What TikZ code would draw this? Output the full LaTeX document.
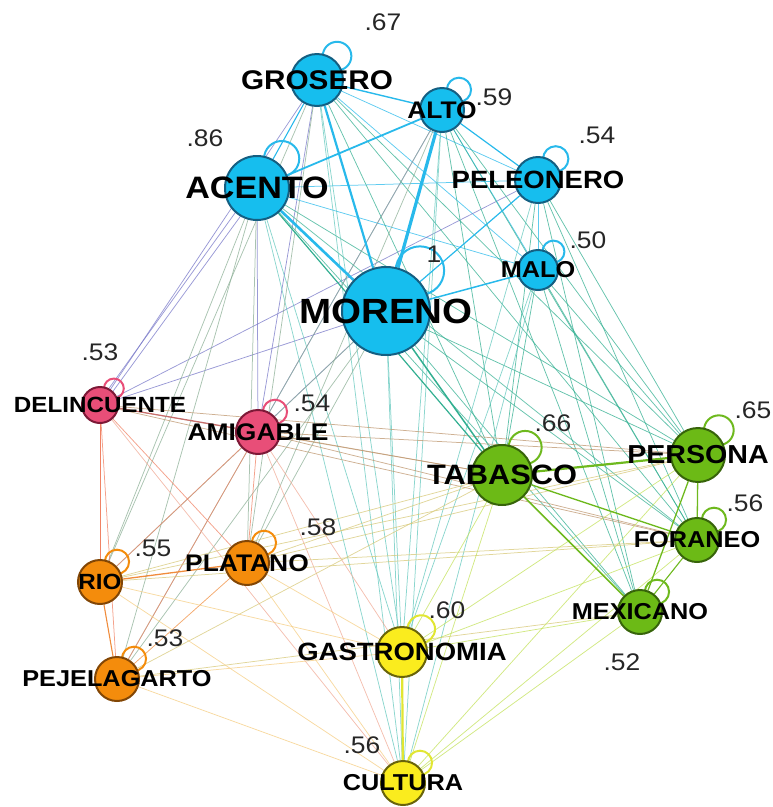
\documentclass[tikz,border=0pt]{standalone}
\usepackage{fontspec}
\setmainfont{Liberation Sans}[FakeStretch=1.1]
\usetikzlibrary{calc,backgrounds}

\definecolor{bluefill}{RGB}{22,190,238}
\definecolor{blueline}{RGB}{20,95,130}
\definecolor{pinkfill}{RGB}{232,78,120}
\definecolor{pinkline}{RGB}{125,25,55}
\definecolor{greenfill}{RGB}{108,186,22}
\definecolor{greenline}{RGB}{55,100,10}
\definecolor{orangefill}{RGB}{244,140,12}
\definecolor{orangeline}{RGB}{130,70,5}
\definecolor{yellowfill}{RGB}{250,236,30}
\definecolor{yellowline}{RGB}{105,100,10}
% edge colours (group to group)
\definecolor{bb}{RGB}{40,185,235}
\definecolor{bg}{RGB}{50,175,145}
\definecolor{bp}{RGB}{120,120,200}
\definecolor{bo}{RGB}{140,175,150}
\definecolor{by}{RGB}{100,200,190}
\definecolor{pp}{RGB}{200,110,110}
\definecolor{po}{RGB}{240,130,100}
\definecolor{pg}{RGB}{190,150,110}
\definecolor{py}{RGB}{240,170,150}
\definecolor{oo}{RGB}{240,140,60}
\definecolor{og}{RGB}{215,200,120}
\definecolor{oy}{RGB}{245,205,130}
\definecolor{gg}{RGB}{110,185,30}
\definecolor{gy}{RGB}{195,225,90}
\definecolor{yy}{RGB}{225,230,50}

\tikzset{
  term/.style={circle, inner sep=0pt, line width=2pt, minimum size=2*#1},
  bterm/.style={term=#1, draw=blueline, fill=bluefill},
  pterm/.style={term=#1, draw=pinkline, fill=pinkfill},
  gterm/.style={term=#1, draw=greenline, fill=greenfill},
  oterm/.style={term=#1, draw=orangeline, fill=orangefill},
  yterm/.style={term=#1, draw=yellowline, fill=yellowfill},
  word/.style={font=\bfseries\fontsize{#1}{#1}\selectfont},
  val/.style={font=\fontsize{24}{24}\selectfont, text=black!85},
  ln/.style={line width=0.75pt, opacity=0.75},
}

% self loop: node, radius, colour
\newcommand{\selfloop}[3]{%
  \draw[#3, line width=2pt] ($(#1)+(-50:{1.2*#2})$) circle[radius={0.55*#2pt}];}

\begin{document}
\begin{tikzpicture}[x=1pt,y=-1pt]
\useasboundingbox (0,0) rectangle (773,807);

% Nodes
\node[bterm=26, label={[word=27]center:GROSERO}] (grosero) at (317,80) {};
\node[bterm=22, label={[word=24]center:ALTO}] (alto) at (442,110) {};
\node[bterm=32, label={[word=31]center:ACENTO}] (acento) at (257,188) {};
\node[bterm=23, label={[word=25]center:PELEONERO}] (peleonero) at (538,180) {};
\node[bterm=20, label={[word=23]center:MALO}] (malo) at (538,270) {};
\node[bterm=44, label={[word=35]center:MORENO}] (moreno) at (386,311) {};
\node[pterm=18, label={[word=22]center:DELINCUENTE}] (delincuente) at (100,405) {};
\node[pterm=22, label={[word=24]center:AMIGABLE}] (amigable) at (258,432) {};
\node[gterm=30, label={[word=28]center:TABASCO}] (tabasco) at (502,475) {};
\node[gterm=27, label={[word=26]center:PERSONA}] (persona) at (698,455) {};
\node[gterm=22, label={[word=23]center:FORANEO}] (foraneo) at (697,540) {};
\node[gterm=22, label={[word=23]center:MEXICANO}] (mexicano) at (640,612) {};
\node[yterm=25, label={[word=25]center:GASTRONOMIA}] (gastronomia) at (402,652) {};
\node[yterm=22, label={[word=23]center:CULTURA}] (cultura) at (403,783) {};
\node[oterm=22, label={[word=22]center:RIO}] (rio) at (100,582) {};
\node[oterm=22, label={[word=24]center:PLATANO}] (platano) at (247,563) {};
\node[oterm=22, label={[word=23]center:PEJELAGARTO}] (pejelagarto) at (117,679) {};

% Values
\node[val] (v-grosero) at (383,22) {.67};
\node[val] (v-alto) at (494,97) {.59};
\node[val] (v-acento) at (205,138) {.86};
\node[val] (v-peleonero) at (597,135) {.54};
\node[val] (v-malo) at (588,240) {.50};
\node[val] (v-moreno) at (434,254) {1};
\node[val] (v-delincuente) at (100,352) {.53};
\node[val] (v-amigable) at (312,403) {.54};
\node[val] (v-tabasco) at (553,423) {.66};
\node[val] (v-persona) at (753,410) {.65};
\node[val] (v-foraneo) at (745,503) {.56};
\node[val] (v-mexicano) at (622,662) {.52};
\node[val] (v-gastronomia) at (447,610) {.60};
\node[val] (v-cultura) at (362,745) {.56};
\node[val] (v-rio) at (153,548) {.55};
\node[val] (v-platano) at (318,527) {.58};
\node[val] (v-pejelagarto) at (165,638) {.53};

\begin{pgfonlayer}{background}
% thin edges by group
\foreach \a/\b in {grosero/peleonero, grosero/malo, alto/malo, acento/peleonero,
    acento/malo, peleonero/malo}
  \draw[ln, bb] (\a) -- (\b);
\foreach \a/\b in {acento/amigable, moreno/delincuente, grosero/delincuente,
    grosero/amigable, moreno/amigable, alto/amigable, peleonero/delincuente}
  \draw[ln, bp] (\a) -- (\b);
\draw[ln, bp] ($(acento)+(-4,0)$) -- ($(delincuente)+(-3,0)$);
\draw[ln, bp] ($(acento)+(4,0)$) -- ($(delincuente)+(3,0)$);
\foreach \a/\b in {moreno/persona, moreno/foraneo, moreno/mexicano, acento/persona,
    acento/foraneo, acento/mexicano, grosero/tabasco, grosero/persona, grosero/foraneo,
    alto/tabasco, alto/persona, alto/foraneo, alto/mexicano, peleonero/tabasco,
    peleonero/persona, peleonero/foraneo, peleonero/mexicano, malo/tabasco,
    malo/persona, malo/foraneo, malo/mexicano}
  \draw[ln, bg] (\a) -- (\b);
\foreach \a/\b in {moreno/gastronomia, moreno/cultura, acento/gastronomia,
    acento/cultura, grosero/gastronomia, grosero/cultura, alto/gastronomia,
    alto/cultura, peleonero/gastronomia, malo/cultura, malo/gastronomia}
  \draw[ln, by] (\a) -- (\b);
\foreach \a/\b in {acento/rio, acento/platano, acento/pejelagarto, moreno/platano,
    moreno/rio, grosero/rio, grosero/platano, alto/platano, alto/pejelagarto,
    moreno/pejelagarto}
  \draw[ln, bo] (\a) -- (\b);
\foreach \a/\b in {delincuente/rio, delincuente/pejelagarto, delincuente/platano,
    amigable/rio, amigable/platano, amigable/pejelagarto}
  \draw[ln, po] (\a) -- (\b);
\foreach \a/\b in {delincuente/tabasco, delincuente/persona, amigable/tabasco,
    amigable/persona, amigable/foraneo, delincuente/foraneo}
  \draw[ln, pg] (\a) -- (\b);
\foreach \a/\b in {amigable/gastronomia, amigable/cultura, delincuente/cultura}
  \draw[ln, py] (\a) -- (\b);
\draw[ln, oo] (platano) -- (pejelagarto);
\foreach \a/\b in {rio/tabasco, platano/tabasco, platano/persona, rio/persona,
    platano/foraneo, pejelagarto/tabasco, pejelagarto/mexicano, rio/foraneo}
  \draw[ln, og] (\a) -- (\b);
\foreach \a/\b in {rio/gastronomia, rio/cultura, platano/gastronomia,
    platano/cultura, pejelagarto/gastronomia, pejelagarto/cultura}
  \draw[ln, oy] (\a) -- (\b);
\foreach \a/\b in {tabasco/gastronomia, tabasco/cultura, persona/gastronomia,
    persona/cultura, foraneo/gastronomia, foraneo/cultura, mexicano/gastronomia,
    mexicano/cultura}
  \draw[ln, gy] (\a) -- (\b);

% heavier edges
\draw[bb, line width=1.4pt] (grosero) -- (alto);
\draw[bb, line width=1.1pt] (grosero) -- (acento);
\draw[bb, line width=1.2pt] (alto) -- (peleonero);
\draw[bb, line width=1.2pt] (peleonero) -- (moreno);
\draw[bb, line width=1.5pt] (malo) -- (moreno);
\draw[bb, line width=3.2pt] (alto) -- (moreno);
\draw[bb, line width=2.2pt] (grosero) -- (moreno);
\draw[bb, line width=1.8pt] (acento) -- (alto);
\draw[bb, line width=2.6pt] (acento) -- (moreno);
\draw[bg, line width=1.5pt] (moreno) -- (tabasco);
\draw[bg, line width=1.2pt] (acento) -- (tabasco);
\draw[pp, line width=1.2pt] (delincuente) -- (amigable);
\draw[po, line width=1.0pt] (delincuente) -- (rio);
\draw[oo, line width=1.3pt] (rio) -- (platano);
\draw[oo, line width=1.1pt] (rio) -- (pejelagarto);
\draw[gg, line width=2.2pt] (tabasco) -- (persona);
\draw[gg, line width=1.3pt] (tabasco) -- (foraneo);
\draw[gg, line width=1.6pt] (tabasco) -- (mexicano);
\draw[gg, line width=1.3pt] (persona) -- (foraneo);
\draw[gg, line width=1.3pt] (persona) -- (mexicano);
\draw[gg, line width=1.1pt] (foraneo) -- (mexicano);
\draw[yy, line width=2.2pt] (gastronomia) -- (cultura);

% self loops
\selfloop{grosero}{26}{bb}
\selfloop{alto}{22}{bb}
\selfloop{acento}{32}{bb}
\selfloop{peleonero}{23}{bb}
\selfloop{malo}{20}{bb}
\selfloop{moreno}{44}{bb}
\selfloop{delincuente}{18}{pinkfill}
\selfloop{amigable}{22}{pinkfill}
\selfloop{tabasco}{30}{gg}
\selfloop{persona}{27}{gg}
\selfloop{foraneo}{22}{gg}
\selfloop{mexicano}{22}{gg}
\selfloop{gastronomia}{25}{yy}
\selfloop{cultura}{22}{yy}
\selfloop{rio}{22}{orangefill}
\selfloop{platano}{22}{orangefill}
\selfloop{pejelagarto}{22}{orangefill}
\end{pgfonlayer}
\end{tikzpicture}
\end{document}
